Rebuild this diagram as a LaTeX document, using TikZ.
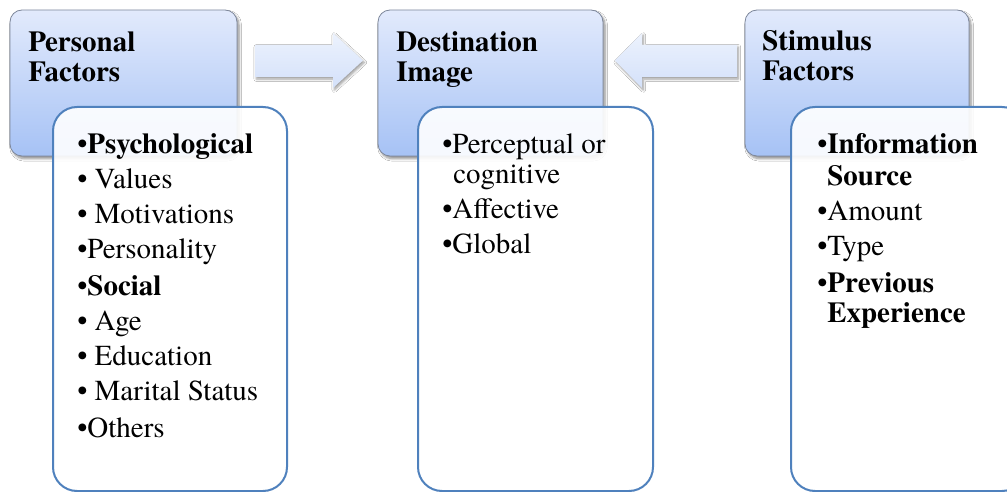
\documentclass[tikz,border=0pt]{standalone}
\usepackage{fontspec}
\setmainfont{texgyretermes}[Extension=.otf, UprightFont=*-regular, BoldFont=*-bold, ItalicFont=*-italic, BoldItalicFont=*-bolditalic]
\usetikzlibrary{shadows.blur}
\definecolor{boxtop}{RGB}{226,234,252}
\definecolor{boxbot}{RGB}{166,194,245}
\definecolor{boxline}{RGB}{125,135,155}
\definecolor{bodyline}{RGB}{79,129,189}
\definecolor{arrtop}{RGB}{236,242,253}
\definecolor{arrbot}{RGB}{212,225,250}
\newcommand{\wsp}{\hspace{0.25em}}
\tikzset{
  headbox/.style={shade, top color=boxtop, bottom color=boxbot, draw=boxline,
    line width=0.6pt, rounded corners=9pt,
    blur shadow={shadow xshift=1.5pt, shadow yshift=-2pt, shadow blur steps=6, shadow opacity=45}},
  bodybox/.style={fill=white, fill opacity=0.9, draw=bodyline, draw opacity=1,
    line width=1.5pt, rounded corners=18pt},
  fatarrow/.style={shade, top color=arrtop, bottom color=arrbot,
    blur shadow={shadow xshift=1pt, shadow yshift=-1.5pt, shadow blur steps=5, shadow opacity=40}},
  txt/.style={anchor=base west, inner sep=0pt, font=\fontsize{21.75}{22}\selectfont},
  htxt/.style={txt, font=\fontsize{21.75}{22}\selectfont\bfseries}
}
\begin{document}
\begin{tikzpicture}[x=0.75pt, y=-0.75pt]
\useasboundingbox (0,0) rectangle (1007,492);
\clip (0,0) rectangle (1007,492);
\fill[white] (0,0) rectangle (1007,492);

% arrows
\path[fatarrow] (255,45) -- (333,45) -- (333,33) -- (363,60.5) -- (333,88) -- (333,77) -- (255,77) -- cycle;
\path[fatarrow] (737,45) -- (642,45) -- (642,33) -- (615,60.5) -- (642,88) -- (642,77) -- (737,77) -- cycle;

% header boxes
\path[headbox] (10,10) rectangle (237,156);
\path[headbox] (378,10) rectangle (603,156);
\path[headbox] (745,10) rectangle (969,156);

\node[htxt] (h1a) at (28,52) {Personal};
\node[htxt] (h1b) at (28,82) {Factors};
\node[htxt] (h2a) at (396,52) {Destination};
\node[htxt] (h2b) at (396,82) {Image};
\node[htxt] (h3a) at (762,51) {Stimulus};
\node[htxt] (h3b) at (762,81) {Factors};

% body boxes
\path[bodybox] (53,107) rectangle (287,491);
\path[bodybox] (418,107) rectangle (653,491);
\path[bodybox] (791,107) rectangle (1026,491);

% left body
\node[txt] (a1) at (77,153) {•\textbf{Psychological}};
\node[txt] (a2) at (77,188) {•\wsp Values};
\node[txt] (a3) at (77,223) {•\wsp Motivations};
\node[txt] (a4) at (77,258) {•Personality};
\node[txt] (a5) at (77,295) {•\textbf{Social}};
\node[txt] (a6) at (77,330) {•\wsp Age};
\node[txt] (a7) at (77,365) {•\wsp Education};
\node[txt] (a8) at (77,400) {•\wsp Marital\wsp Status};
\node[txt] (a9) at (77,437) {•Others};

% middle body
\node[txt] (b1) at (442,153) {•Perceptual\wsp or};
\node[txt] (b2) at (453,183) {cognitive};
\node[txt] (b3) at (442,218) {•Affective};
\node[txt] (b4) at (442,253) {•Global};

% right body
\node[txt] (c1) at (817,153) {•\textbf{Information}};
\node[txt] (c2) at (827,185) {\textbf{Source}};
\node[txt] (c3) at (817,220) {•Amount};
\node[txt] (c4) at (817,255) {•Type};
\node[txt] (c5) at (817,292) {•\textbf{Previous}};
\node[txt] (c6) at (827,322) {\textbf{Experience}};
\end{tikzpicture}
\end{document}
